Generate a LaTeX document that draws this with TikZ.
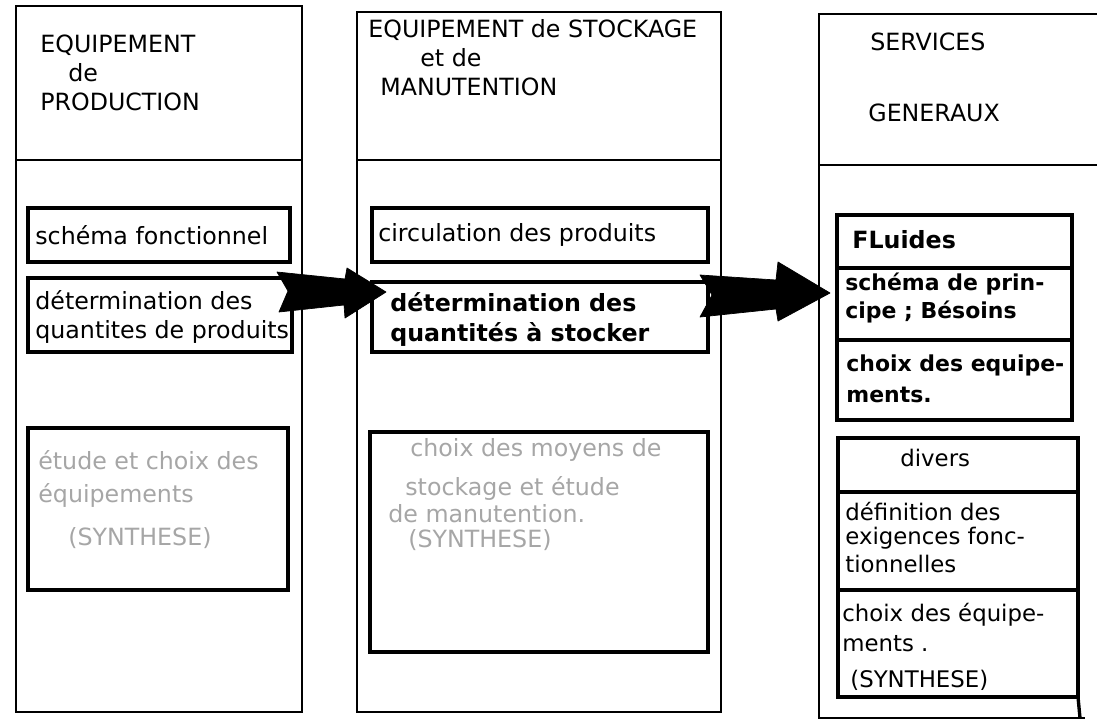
\documentclass[tikz,border=0pt]{standalone}
\usepackage{fontspec}
\setmainfont{DejaVu Sans}
\usepackage{tikz}

\tikzset{
  frame/.style={line width=1.3pt},
  cell/.style={line width=1.9pt},
  head/.style={anchor=west, inner sep=0, font=\fontsize{13.5}{15}\selectfont},
  txt/.style={anchor=west, inner sep=0, font=\fontsize{13.5}{16}\selectfont},
  btxt/.style={txt, font=\fontsize{13.5}{16}\selectfont\bfseries},
  sbtxt/.style={txt, font=\fontsize{12.5}{15}\selectfont\bfseries},
  stxt/.style={txt, font=\fontsize{13}{15}\selectfont},
  faint/.style={txt, text=black!35},
  blockarrow/.style={fill=black, draw=black, line join=round}
}

\begin{document}
\begin{tikzpicture}[x=0.02cm, y=-0.02cm]
\useasboundingbox (0,0) rectangle (1097,726);

% production
\draw[frame] (16,6) rectangle (302,712);
\draw[frame] (16,160) -- (302,160);
\node[head] (prod1) at (40,45) {EQUIPEMENT};
\node[head] (prod2) at (68,73) {de};
\node[head] (prod3) at (40,102) {PRODUCTION};
\draw[cell] (28,208) rectangle (290,262);
\node[txt] (schema) at (35,235) {schéma fonctionnel};
\draw[cell] (28,278) rectangle (292,352);
\node[txt] (detprod1) at (35,300) {détermination des};
\node[txt] (detprod2) at (35,332) {quantites de produits};
\draw[cell] (28,428) rectangle (288,590);
\node[faint] (synprod1) at (38,460) {étude et choix des};
\node[faint] (synprod2) at (38,495) {équipements};
\node[faint] (synprod3) at (68,538) {(SYNTHESE)};

% stockage
\draw[frame] (357,12) rectangle (721,712);
\draw[frame] (357,160) -- (721,160);
\node[head] (stock1) at (368,30) {EQUIPEMENT de STOCKAGE};
\node[head] (stock2) at (420,58) {et de};
\node[head] (stock3) at (380,87) {MANUTENTION};
\draw[cell] (372,208) rectangle (708,262);
\node[txt] (circ) at (378,235) {circulation des produits};
\draw[cell] (372,282) rectangle (708,352);
\node[btxt] (detstock1) at (390,302) {détermination des};
\node[btxt] (detstock2) at (390,334) {quantités à stocker};
\draw[cell] (370,432) rectangle (708,652);
\node[faint] (synstock1) at (410,450) {choix des moyens de};
\node[faint] (synstock2) at (405,488) {stockage et étude};
\node[faint] (synstock3) at (388,514) {de manutention.};
\node[faint] (synstock4) at (408,540) {(SYNTHESE)};

% services generaux
\draw[frame] (1097,14) -- (819,14) -- (819,718) -- (1085,718);
\draw[frame] (819,165) -- (1097,165);
\node[head] (serv1) at (870,42) {SERVICES};
\node[head] (serv2) at (868,113) {GENERAUX};
\draw[cell] (837,215) rectangle (1072,420);
\draw[cell] (837,268) -- (1072,268);
\draw[cell] (837,340) -- (1072,340);
\node[btxt] (fluides) at (852,240) {FLuides};
\node[sbtxt] (princ1) at (845,284) {schéma de prin-};
\node[sbtxt] (princ2) at (845,312) {cipe ; Bésoins};
\node[sbtxt] (chfl1) at (846,365) {choix des equipe-};
\node[sbtxt] (chfl2) at (846,395) {ments.};
\draw[cell] (838,438) rectangle (1078,697);
\draw[cell] (838,492) -- (1078,492);
\draw[cell] (838,590) -- (1078,590);
\draw[cell] (1078,697) -- (1080,718);
\node[stxt] (divers) at (900,458) {divers};
\node[stxt] (exig1) at (845,512) {définition des};
\node[stxt] (exig2) at (845,538) {exigences fonc-};
\node[stxt] (exig3) at (845,564) {tionnelles};
\node[stxt] (chdiv1) at (842,615) {choix des équipe-};
\node[stxt] (chdiv2) at (842,644) {ments .};
\node[stxt] (chdiv3) at (850,680) {(SYNTHESE)};

% fleches
\fill[blockarrow] (277,272) -- (345,279) -- (347,268) -- (386,292) -- (345,318)
  -- (344,305) -- (279,312) -- (288,291) -- cycle;
\fill[blockarrow] (700,275) -- (776,280) -- (778,262) -- (830,293) -- (778,321)
  -- (776,309) -- (700,317) -- (712,295) -- cycle;
\end{tikzpicture}
\end{document}
